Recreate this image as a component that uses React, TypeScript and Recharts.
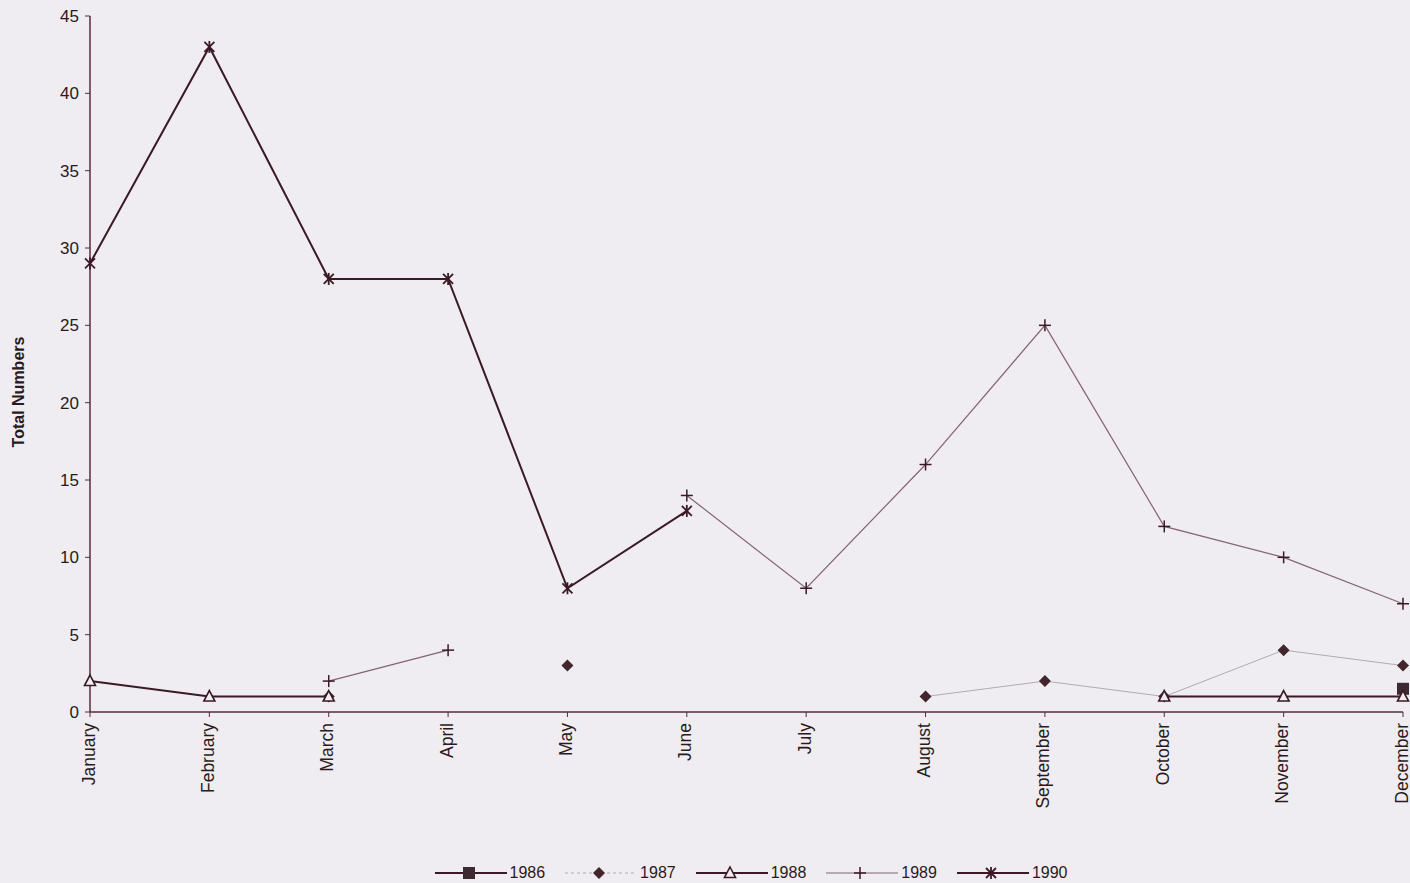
import React from 'react';
import { LineChart, Line, XAxis, YAxis, Legend } from 'recharts';

const months = ['January', 'February', 'March', 'April', 'May', 'June', 'July', 'August', 'September', 'October', 'November', 'December'];
const s1986: (number | null)[] = [null, null, null, null, null, null, null, null, null, null, null, 1.5];
const s1987: (number | null)[] = [null, null, 1, null, 3, null, null, 1, 2, 1, 4, 3];
const s1988: (number | null)[] = [2, 1, 1, null, null, null, null, null, null, 1, 1, 1];
const s1989: (number | null)[] = [null, null, 2, 4, null, 14, 8, 16, 25, 12, 10, 7];
const s1990: (number | null)[] = [29, 43, 28, 28, 8, 13, null, null, null, null, null, null];
const yTicks = [0, 5, 10, 15, 20, 25, 30, 35, 40, 45];

const data = months.map((m, i) => ({
  month: m,
  y1986: s1986[i],
  y1987: s1987[i],
  y1988: s1988[i],
  y1989: s1989[i],
  y1990: s1990[i],
}));

const BG = '#efedf1';
const DARK = '#3a1a24';
const FONT = 'Arial, "Liberation Sans", sans-serif';

type Shape = 'square' | 'diamond' | 'triangle' | 'plus' | 'star';

function Marker({ shape, cx, cy }: { shape: Shape; cx: number; cy: number }) {
  switch (shape) {
    case 'square':
      return <rect x={cx - 6} y={cy - 6} width={12} height={12} fill="#3d2a30" />;
    case 'diamond':
      return <polygon points={`${cx},${cy - 6} ${cx + 6},${cy} ${cx},${cy + 6} ${cx - 6},${cy}`} fill="#42252d" />;
    case 'triangle':
      return <polygon points={`${cx},${cy - 6} ${cx + 5.5},${cy + 4.5} ${cx - 5.5},${cy + 4.5}`} fill={BG} stroke={DARK} strokeWidth={1.6} />;
    case 'plus':
      return (
        <g stroke={DARK} strokeWidth={1.5}>
          <line x1={cx - 6} y1={cy} x2={cx + 6} y2={cy} />
          <line x1={cx} y1={cy - 6} x2={cx} y2={cy + 6} />
        </g>
      );
    case 'star':
      return (
        <g stroke={DARK} strokeWidth={1.8}>
          <line x1={cx - 5} y1={cy - 5} x2={cx + 5} y2={cy + 5} />
          <line x1={cx - 5} y1={cy + 5} x2={cx + 5} y2={cy - 5} />
          <line x1={cx} y1={cy - 6} x2={cx} y2={cy + 6} />
        </g>
      );
  }
  return null;
}

const makeDot = (shape: Shape) => (props: any) => {
  const { cx, cy, index, value } = props;
  if (cx == null || cy == null || value == null || Number.isNaN(cy)) {
    return <g key={`e-${shape}-${index}`} />;
  }
  return (
    <g key={`d-${shape}-${index}`}>
      <Marker shape={shape} cx={cx} cy={cy} />
    </g>
  );
};

const series = [
  { key: 'y1986', name: '1986', stroke: DARK, width: 2, shape: 'square' as Shape },
  { key: 'y1987', name: '1987', stroke: '#b3aab0', width: 1, shape: 'diamond' as Shape },
  { key: 'y1988', name: '1988', stroke: DARK, width: 2, shape: 'triangle' as Shape },
  { key: 'y1989', name: '1989', stroke: '#85646e', width: 1.2, shape: 'plus' as Shape },
  { key: 'y1990', name: '1990', stroke: DARK, width: 2, shape: 'star' as Shape },
];

const MonthTick = (props: any) => {
  const { x, y, payload } = props;
  const bx = x + 4.5;
  return (
    <text
      x={bx}
      y={y}
      transform={`rotate(-90 ${bx} ${y})`}
      textAnchor="end"
      fontFamily={FONT}
      fontSize={17.5}
      fill="#2a1a20"
    >
      {payload.value}
    </text>
  );
};

const LegendContent = () => (
  <div style={{ display: 'flex', justifyContent: 'center', alignItems: 'center', fontFamily: FONT, fontSize: 16, color: '#2a1a20', paddingLeft: 112, boxSizing: 'border-box', width: 1410 }}>
    {series.map((s) => (
      <div key={s.key} style={{ display: 'flex', alignItems: 'center', marginRight: 20 }}>
        <svg width={72} height={16} style={{ display: 'block' }}>
          <line
            x1={0}
            y1={8}
            x2={72}
            y2={8}
            stroke={s.stroke}
            strokeWidth={s.width}
            strokeDasharray={s.key === 'y1987' ? '3 3' : undefined}
          />
          <Marker shape={s.shape} cx={34} cy={8} />
        </svg>
        <span style={{ marginLeft: 3 }}>{s.name}</span>
      </div>
    ))}
  </div>
);

export default function App() {
  return (
    <div style={{ position: 'absolute', left: 0, top: 0, width: 1410, height: 883, background: BG }}>
      <LineChart width={1410} height={883} data={data} margin={{ top: 16, right: 7, left: 0, bottom: 43 }}>
        <XAxis
          dataKey="month"
          interval={0}
          height={110}
          tick={<MonthTick />}
          tickLine={{ stroke: '#5a2a38' }}
          axisLine={{ stroke: '#5a2a38', strokeWidth: 1.5 }}
          tickSize={5}
          tickMargin={6}
        />
        <YAxis
          domain={[0, 45]}
          ticks={yTicks}
          width={90}
          interval={0}
          tick={{ fontFamily: FONT, fontSize: 17, fill: '#2a1a20' }}
          tickLine={{ stroke: '#5a2a38' }}
          axisLine={{ stroke: '#5a2a38', strokeWidth: 1.5 }}
          tickSize={5}
          tickMargin={6}
          label={{
            content: (p: any) => {
              const vb = p.viewBox || { x: 0, y: 16, width: 90, height: 696 };
              const cx = 18;
              const cy = vb.y + vb.height / 2 + 28;
              return (
                <text
                  x={cx}
                  y={cy}
                  transform={`rotate(-90 ${cx} ${cy})`}
                  textAnchor="middle"
                  dominantBaseline="central"
                  fontFamily={FONT}
                  fontWeight="bold"
                  fontSize={16}
                  fill="#2a1a20"
                >
                  Total Numbers
                </text>
              );
            },
          }}
        />
        <Legend
          verticalAlign="bottom"
          content={<LegendContent />}
          wrapperStyle={{ position: 'absolute', left: 0, top: 864, width: 1410 }}
        />
        {series.map((s) => (
          <Line
            key={s.key}
            type="linear"
            dataKey={s.key}
            name={s.name}
            stroke={s.stroke}
            strokeWidth={s.width}
            dot={makeDot(s.shape)}
            activeDot={false}
            isAnimationActive={false}
            connectNulls={false}
          />
        ))}
      </LineChart>
    </div>
  );
}
